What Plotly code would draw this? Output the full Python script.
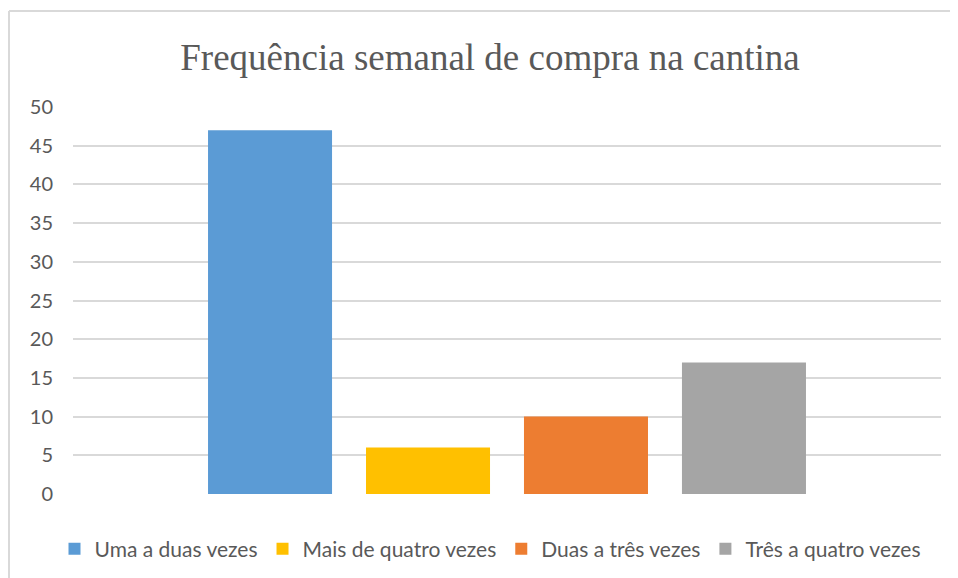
import plotly.graph_objects as go

categories = ["Uma a duas vezes", "Mais de quatro vezes", "Duas a três vezes", "Três a quatro vezes"]
values = [47, 6, 10, 17]
colors = ["#5B9BD5", "#FFC000", "#ED7D31", "#A5A5A5"]
y_ticks = [0, 5, 10, 15, 20, 25, 30, 35, 40, 45, 50]

# page has an 8px body margin; work in figure coords = screen - 8
OFF = 8
W, H = 958 - OFF, 578 - OFF
L = 73 - OFF
T = 107 - OFF
R = W - (941 - OFF)
B = H - (494 - OFF)

fig = go.Figure()
for name, v, c in zip(categories, values, colors):
    fig.add_trace(go.Bar(x=[""], y=[v], name=name, marker=dict(color=c, line=dict(width=0))))

pw = W - L - R
ph = H - T - B
def px_x(p):
    return (p - OFF - L) / pw
def px_y(p):
    return (H - B - (p - OFF)) / ph

fig.update_layout(
    width=W, height=H,
    margin=dict(l=L, r=R, t=T, b=B, autoexpand=False),
    paper_bgcolor="white", plot_bgcolor="white",
    barmode="group", bargap=0.272, bargroupgap=0.215,
    title=dict(text="Frequência semanal de compra na cantina", x=(490 - OFF) / W, xanchor="center",
               y=1 - (57 - OFF) / H, yanchor="middle",
               font=dict(family="Liberation Serif", size=37, color="#595959")),
    font=dict(family="Lato", size=20, color="#595959"),
    xaxis=dict(showticklabels=False, showgrid=False, zeroline=False, showline=False, ticks=""),
    yaxis=dict(range=[0, 50], tickvals=y_ticks, showgrid=True, gridcolor="#D9D9D9", gridwidth=1.5,
               zeroline=False, showline=False, ticks="", ticklabelstandoff=19,
               tickfont=dict(family="Lato", size=20, color="#595959")),
    legend=dict(orientation="h", xref="container", yref="container",
                x=(490 - OFF) / W, xanchor="center", y=1 - (549 - OFF) / H, yanchor="middle",
                font=dict(family="Lato", size=21, color="#595959"), itemwidth=30,
                traceorder="normal"),
    showlegend=True,
    shapes=[
        dict(type="line", xref="paper", yref="paper", x0=px_x(9), x1=px_x(970), y0=px_y(11), y1=px_y(11),
             line=dict(color="#D9D9D9", width=2)),
        dict(type="line", xref="paper", yref="paper", x0=px_x(9), x1=px_x(9), y0=px_y(11), y1=px_y(590),
             line=dict(color="#D9D9D9", width=2)),
    ],
)

fig.write_html("out.html")
